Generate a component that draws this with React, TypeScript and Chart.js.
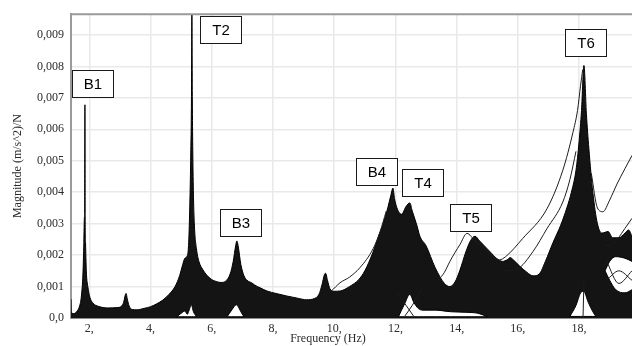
import React, { useEffect, useRef } from 'react';
import { Chart, registerables } from 'chart.js';

Chart.register(...registerables);

// Frequency axis range (Hz) and magnitude range ((m/s^2)/N)
const FREQ_MIN = 1.4;
const FREQ_MAX = 19.73;
const MAG_MAX = 0.00966;

// Upper envelope of the bundle of measured FRF magnitudes
const envelopeFreq = [
  1.4, 1.41, 1.5, 1.6, 1.68, 1.74, 1.79, 1.82, 1.838, 1.848, 1.855, 1.862, 1.875, 1.9, 1.95,
  2.02, 2.12, 2.3, 2.6, 2.9, 3.05, 3.12, 3.17, 3.2, 3.24, 3.3, 3.4, 3.55, 3.8, 4.0, 4.2, 4.4,
  4.6, 4.8, 4.95, 5.05, 5.12, 5.18, 5.24, 5.28, 5.31, 5.335, 5.35, 5.365, 5.39, 5.43, 5.5,
  5.58, 5.7, 5.85, 6.0, 6.15, 6.3, 6.45, 6.6, 6.7, 6.78, 6.82, 6.86, 6.95, 7.05, 7.15, 7.3,
  7.4, 7.6, 7.8, 8.1, 8.45, 8.8, 9.1, 9.35, 9.5, 9.6, 9.68, 9.72, 9.78, 9.86, 10.0, 10.2,
  10.5, 10.8, 11.0, 11.27, 11.45, 11.6, 11.75, 11.85, 11.92, 11.97, 12.05, 12.2, 12.35,
  12.47, 12.55, 12.7, 12.8, 13.0, 13.3, 13.6, 13.78, 13.95, 14.1, 14.3, 14.45, 14.6, 14.75,
  14.9, 15.1, 15.3, 15.5, 15.65, 15.75, 15.85, 16.06, 16.3, 16.5, 16.7, 16.9, 17.15, 17.4,
  17.6, 17.75, 17.9, 18.0, 18.08, 18.16, 18.24, 18.32, 18.45, 18.6, 18.75, 18.95, 19.1,
  19.3, 19.5, 19.62, 19.73,
];
const envelopeMag = [
  0.0006, 0.00018, 0.00014, 0.00022, 0.00038, 0.0007, 0.0014, 0.0024, 0.0032, 0.0033,
  0.00678, 0.00325, 0.0024, 0.0015, 0.001, 0.00065, 0.00047, 0.00037, 0.00032, 0.00033,
  0.00038, 0.0005, 0.00072, 0.00078, 0.0006, 0.00038, 0.00027, 0.00026, 0.00031, 0.00036,
  0.00045, 0.00057, 0.00075, 0.001, 0.00135, 0.0017, 0.0019, 0.00195, 0.0023, 0.0035,
  0.005, 0.0069, 0.0098, 0.0069, 0.0045, 0.003, 0.0022, 0.0018, 0.00155, 0.00135, 0.00122,
  0.00116, 0.00113, 0.00117, 0.0014, 0.0018, 0.0023, 0.00245, 0.0023, 0.0017, 0.00135,
  0.0012, 0.00112, 0.00105, 0.00095, 0.00086, 0.00078, 0.0007, 0.00063, 0.00058, 0.00062,
  0.00075, 0.00105, 0.00138, 0.00142, 0.0012, 0.00093, 0.00085, 0.00086, 0.001, 0.00122,
  0.0015, 0.0021, 0.0026, 0.003, 0.0035, 0.0039, 0.00413, 0.0038, 0.0035, 0.0033, 0.00355,
  0.00366, 0.0034, 0.00295, 0.0026, 0.0023, 0.0016, 0.0011, 0.001, 0.00115, 0.0015, 0.0021,
  0.00245, 0.0026, 0.00245, 0.0023, 0.0021, 0.0019, 0.0018, 0.00185, 0.00192, 0.00185,
  0.00165, 0.00145, 0.00134, 0.0014, 0.0018, 0.0024, 0.00295, 0.0035, 0.004, 0.0047,
  0.0056, 0.0066, 0.00803, 0.0065, 0.0054, 0.004, 0.003, 0.0027, 0.00275, 0.00255,
  0.00255, 0.0027, 0.0028, 0.0026,
];

// Quiet zones inside the bundle where few responses pass (upper / lower bound)
const quietBaseFreq = [4.85, 5.0, 5.12, 5.2, 5.26, 5.33, 5.4, 5.5];
const quietBaseTop = [0.00004, 0.00015, 0.00022, 0.00012, 0.00025, 0.00042, 0.0002, 0.00004];
const quietBaseBottom = [0.00004, 0.00004, 0.00004, 0.00004, 0.00004, 0.00004, 0.00004, 0.00004];

const quietB3Freq = [6.5, 6.65, 6.8, 6.95, 7.05];
const quietB3Top = [0.00004, 0.00025, 0.00042, 0.0002, 0.00004];
const quietB3Bottom = [0.00004, 0.00004, 0.00004, 0.00004, 0.00004];

const quietT4Freq = [12.1, 12.3, 12.47, 12.6, 12.75, 12.9, 13.3, 13.8, 14.3, 14.7, 15.0];
const quietT4Top = [0.00004, 0.00045, 0.00075, 0.0005, 0.0003, 0.00025, 0.00025, 0.0002, 0.00018, 0.00015, 0.00004];
const quietT4Bottom = [0.00004, 0.00004, 0.00004, 0.00004, 0.00004, 0.00004, 0.00004, 0.00004, 0.00004, 0.00004, 0.00004];

const quietT6Freq = [17.7, 17.9, 18.05, 18.15, 18.3, 18.45, 18.55];
const quietT6Top = [0.00005, 0.0004, 0.0008, 0.00085, 0.0005, 0.0002, 0.00005];
const quietT6Bottom = [0.00005, 0.00005, 0.00005, 0.00005, 0.00005, 0.00005, 0.00005];

const quietEndFreq = [18.85, 19.0, 19.2, 19.5, 19.73];
const quietEndTop = [0.0015, 0.0018, 0.00195, 0.0019, 0.0018];
const quietEndBottom = [0.0015, 0.0012, 0.0009, 0.0008, 0.0009];

// Individual responses standing out of the bundle
const curveB4Freq = [9.9, 10.19, 10.5, 10.84, 11.27, 11.5, 11.7];
const curveB4Mag = [0.00085, 0.00112, 0.0013, 0.0016, 0.0022, 0.00275, 0.0034];

const curveT5Freq = [13.4, 13.6, 13.78, 14.11, 14.34, 14.6, 14.9, 15.2, 15.4, 15.6, 16.16, 16.95, 17.47, 17.8, 17.95, 18.05, 18.12];
const curveT5Mag = [0.0012, 0.00145, 0.0018, 0.00234, 0.00269, 0.00245, 0.0022, 0.00195, 0.00185, 0.00195, 0.00253, 0.00347, 0.0047, 0.0059, 0.0066, 0.0074, 0.0079];

const curveT6Freq = [15.6, 15.97, 16.5, 16.95, 17.47, 17.7, 17.9];
const curveT6Mag = [0.0015, 0.00155, 0.00212, 0.00284, 0.00369, 0.0044, 0.0053];

const curveHighFreq = [18.4, 18.6, 18.78, 19.0, 19.24, 19.5, 19.73];
const curveHighMag = [0.0046, 0.0035, 0.00338, 0.00375, 0.00426, 0.00475, 0.00517];

const curveTailFreq = [18.85, 19.0, 19.27, 19.5, 19.73];
const curveTailMag = [0.0023, 0.0023, 0.00253, 0.00285, 0.00317];

const crossAFreq = [12.05, 12.35, 12.6];
const crossAMag = [0.0008, 0.0004, 0.00005];
const crossBFreq = [12.3, 12.55, 12.85];
const crossBMag = [0.00005, 0.0004, 0.0009];
const crossCFreq = [18.9, 19.3, 19.73];
const crossCMag = [0.0012, 0.0015, 0.0012];
const crossDFreq = [18.9, 19.3, 19.73];
const crossDMag = [0.0018, 0.0011, 0.0015];
const crossEFreq = [18.13, 18.16];
const crossEMag = [0.0, 0.0012];

// Mode labels placed at (frequency, magnitude) of the box centre
const modeNames = ['B1', 'T2', 'B3', 'B4', 'T4', 'T5', 'T6'];
const modeFreq = [2.1, 6.29, 6.94, 11.37, 12.9, 14.46, 18.2];
const modeMag = [0.00745, 0.00917, 0.00303, 0.00466, 0.00431, 0.0032, 0.00876];

const yTickStep = 0.001;
const xTickStep = 2;

const toPoints = (xs: number[], ys: number[]) => xs.map((x, i) => ({ x, y: ys[i] }));

const SERIF = '"Liberation Serif", "Times New Roman", serif';
const SANS = '"Liberation Sans", Arial, sans-serif';

const decorPlugin = {
  id: 'frfDecor',
  afterDraw(chart: any) {
    const { ctx, chartArea, scales } = chart;
    ctx.save();
    // top edge of the plot frame
    ctx.strokeStyle = '#9a9a9a';
    ctx.lineWidth = 2;
    ctx.beginPath();
    ctx.moveTo(chartArea.left - 1, chartArea.top);
    ctx.lineTo(chartArea.right, chartArea.top);
    ctx.stroke();

    // x axis title
    ctx.font = `12px ${SERIF}`;
    ctx.fillStyle = '#2b2b2b';
    ctx.textAlign = 'center';
    ctx.textBaseline = 'middle';
    ctx.fillText('Frequency (Hz)', 328, 339);

    // mode label boxes
    ctx.font = `15px ${SANS}`;
    modeNames.forEach((name, i) => {
      const cx = scales.x.getPixelForValue(modeFreq[i]);
      const cy = scales.y.getPixelForValue(modeMag[i]);
      const w = 41;
      const h = 27;
      const x0 = Math.round(cx - w / 2) + 0.5;
      const y0 = Math.round(cy - h / 2) + 0.5;
      ctx.fillStyle = '#ffffff';
      ctx.fillRect(x0, y0, w, h);
      ctx.strokeStyle = '#1a1a1a';
      ctx.lineWidth = 1;
      ctx.strokeRect(x0, y0, w, h);
      ctx.fillStyle = '#000000';
      ctx.fillText(name, x0 + w / 2, y0 + h / 2 + 1);
    });
    ctx.restore();
  },
};

export default function App() {
  const canvasRef = useRef<HTMLCanvasElement | null>(null);

  useEffect(() => {
    document.body.style.margin = '0';
    const canvas = canvasRef.current;
    if (!canvas) return;

    const datasets: any[] = [];
    const base = { pointRadius: 0, cubicInterpolationMode: 'monotone', parsing: false };

    datasets.push({
      ...base,
      label: 'envelope',
      data: toPoints(envelopeFreq, envelopeMag),
      borderColor: '#000000',
      borderWidth: 1,
      backgroundColor: '#141414',
      fill: 'origin',
      order: 100,
    });

    const quiet: [number[], number[], number[]][] = [
      [quietBaseFreq, quietBaseTop, quietBaseBottom],
      [quietB3Freq, quietB3Top, quietB3Bottom],
      [quietT4Freq, quietT4Top, quietT4Bottom],
      [quietT6Freq, quietT6Top, quietT6Bottom],
      [quietEndFreq, quietEndTop, quietEndBottom],
    ];
    quiet.forEach(([f, top, bottom], k) => {
      datasets.push({
        ...base,
        label: `quiet-low-${k}`,
        data: toPoints(f, bottom),
        borderColor: '#000000',
        borderWidth: 1,
        fill: false,
        order: 50,
      });
      datasets.push({
        ...base,
        label: `quiet-high-${k}`,
        data: toPoints(f, top),
        borderColor: '#000000',
        borderWidth: 1,
        fill: { target: '-1', above: '#ffffff', below: '#ffffff' },
        order: 50,
      });
    });

    const curves: [number[], number[]][] = [
      [curveB4Freq, curveB4Mag],
      [curveT5Freq, curveT5Mag],
      [curveT6Freq, curveT6Mag],
      [curveHighFreq, curveHighMag],
      [curveTailFreq, curveTailMag],
      [crossAFreq, crossAMag],
      [crossBFreq, crossBMag],
      [crossCFreq, crossCMag],
      [crossDFreq, crossDMag],
      [crossEFreq, crossEMag],
    ];
    curves.forEach(([f, m], k) => {
      datasets.push({
        ...base,
        label: `response-${k}`,
        data: toPoints(f, m),
        borderColor: '#1c1c1c',
        borderWidth: 1,
        fill: false,
        order: 10,
      });
    });

    const chart = new Chart(canvas, {
      type: 'line',
      data: { datasets },
      options: {
        animation: false,
        responsive: false,
        devicePixelRatio: 1,
        layout: { padding: { top: 10, right: 0, bottom: 0, left: 0 } },
        plugins: { legend: { display: false }, tooltip: { enabled: false } },
        scales: {
          x: {
            type: 'linear',
            min: FREQ_MIN,
            max: FREQ_MAX,
            afterFit: (s: any) => { s.height = 28; },
            ticks: {
              stepSize: xTickStep,
              includeBounds: false,
              autoSkip: false,
              maxRotation: 0,
              padding: 4,
              color: '#2b2b2b',
              font: { family: SERIF, size: 12 },
              callback: (v: any) => `${Math.round(Number(v))},`,
            },
            grid: { color: '#e9e9e9', lineWidth: 1.5, drawTicks: false },
            border: { color: '#8c8c8c', width: 2 },
          },
          y: {
            type: 'linear',
            min: 0,
            max: MAG_MAX,
            afterFit: (s: any) => { s.width = 71; },
            ticks: {
              stepSize: yTickStep,
              includeBounds: false,
              padding: 7,
              color: '#2b2b2b',
              font: { family: SERIF, size: 12 },
              callback: (v: any) => {
                const n = Number(v);
                return Math.abs(n) < 1e-9 ? '0,0' : n.toFixed(3).replace('.', ',');
              },
            },
            grid: { color: '#e9e9e9', lineWidth: 1.5, drawTicks: false },
            border: { color: '#9a9a9a', width: 2 },
            title: {
              display: true,
              text: 'Magnitude (m/s^2)/N',
              color: '#2b2b2b',
              font: { family: SERIF, size: 12 },
              padding: { top: 11, bottom: 0 },
            },
          },
        },
      },
      plugins: [decorPlugin],
    } as any);

    return () => chart.destroy();
  }, []);

  return (
    <canvas
      ref={canvasRef}
      width={632}
      height={346}
      style={{ display: 'block', width: 632, height: 346 }}
    />
  );
}
